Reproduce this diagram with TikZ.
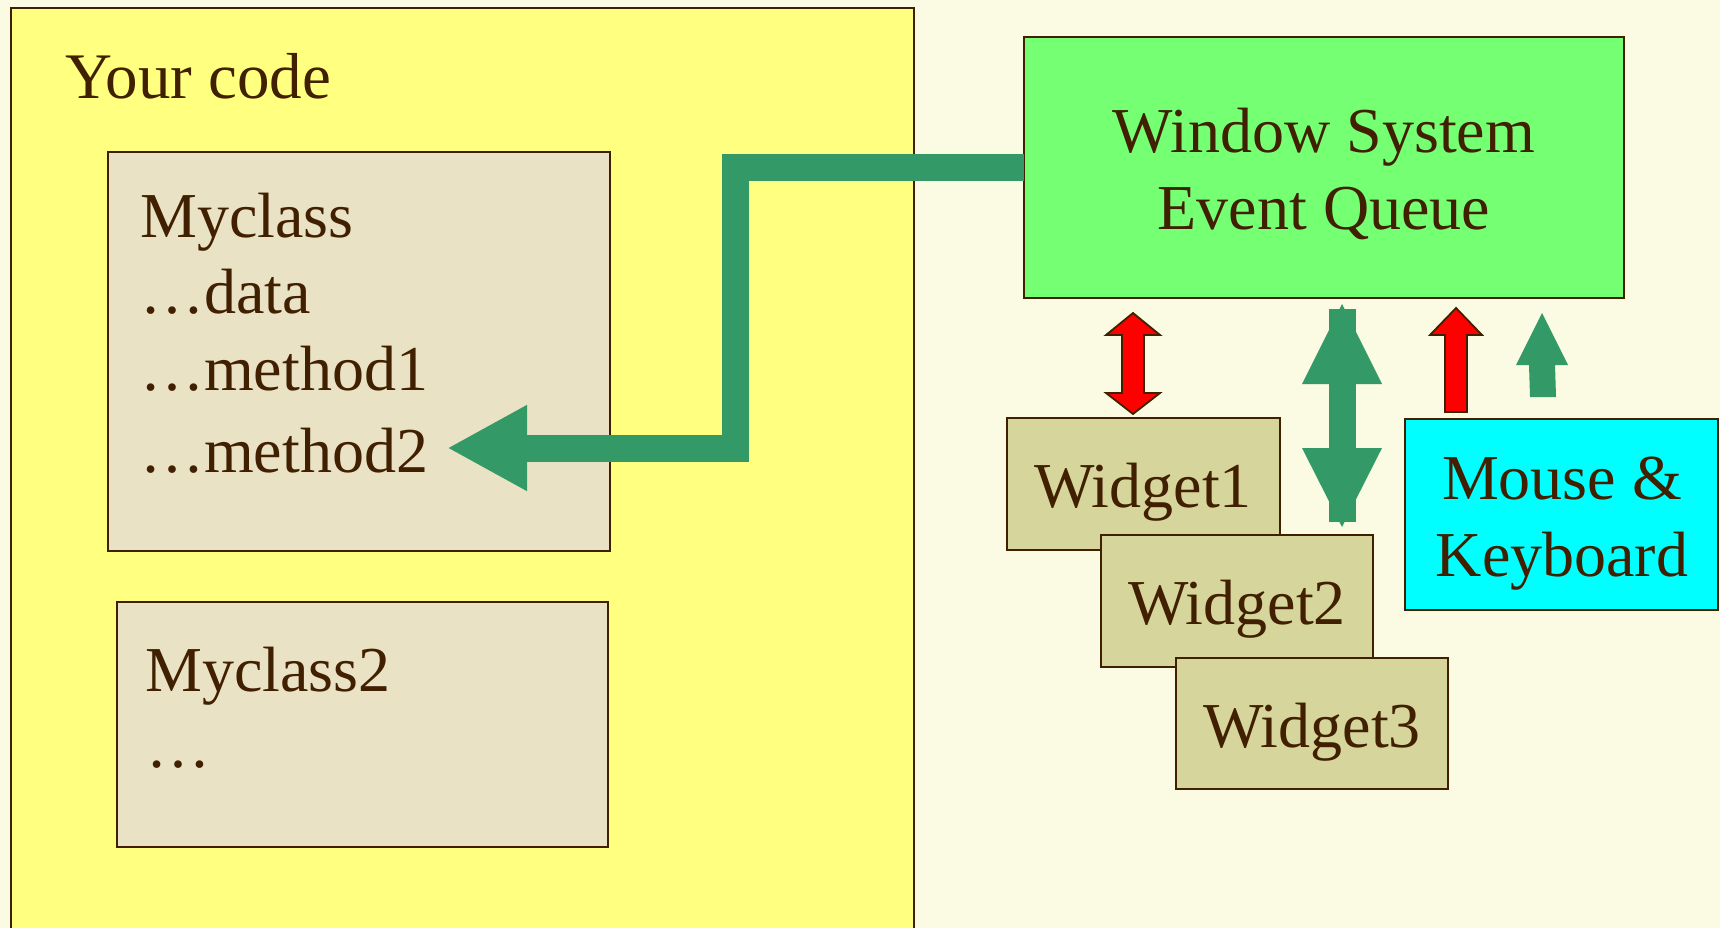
\documentclass[tikz,border=0pt]{standalone}
\usepackage{fontspec}
\setmainfont{Liberation Serif}
\usetikzlibrary{arrows.meta}
\definecolor{ink}{HTML}{402000}
\definecolor{paper}{HTML}{FBFAE3}
\definecolor{codeyellow}{HTML}{FFFF80}
\definecolor{classtan}{HTML}{EAE2C4}
\definecolor{queuegreen}{HTML}{75FF73}
\definecolor{widgetkhaki}{HTML}{D6D59C}
\definecolor{devicecyan}{HTML}{00FFFF}
\definecolor{flowgreen}{HTML}{339966}
\definecolor{flowred}{HTML}{FF0000}
\begin{document}
\begin{tikzpicture}[x=1pt,y=-1pt,
  box/.style={draw=ink, line width=2.4pt, inner sep=0pt, outer sep=0pt, anchor=north west},
  lbl/.style={text=ink, font=\fontsize{64}{77}\selectfont, inner sep=0pt},
  redarrow/.style={fill=flowred, draw=ink, line width=1.8pt, line join=miter},
  greenarrow/.style={fill=flowgreen},
]
\useasboundingbox (0,0) rectangle (1720,928);
\fill[paper] (0,0) rectangle (1720,928);

\begin{scope}
  \clip (0,0) rectangle (1720,928);
  % application side
  \node[box, fill=codeyellow, minimum width=903pt, minimum height=940pt] (code) at (11,8) {};
\end{scope}
\node[lbl, anchor=base west, font=\fontsize{65}{77}\selectfont] (codetitle) at (65,99) {Your code};

\node[box, fill=classtan, minimum width=502pt, minimum height=399pt] (myclass) at (108,152) {};
\node[lbl, anchor=base west] (mc0) at (140,237) {Myclass};
\node[lbl, anchor=base west] (mc1) at (140,313) {…data};
\node[lbl, anchor=base west] (mc2) at (140,390) {…method1};
\node[lbl, anchor=base west] (mc3) at (140,472) {…method2};

\node[box, fill=classtan, minimum width=491pt, minimum height=245pt] (myclass2) at (117,602) {};
\node[lbl, anchor=base west] (mcb0) at (145,691) {Myclass2};
\node[lbl, anchor=base west] (mcb1) at (146,767) {…};

% window system side
\node[box, fill=queuegreen, minimum width=600pt, minimum height=261pt] (win) at (1024,37) {};
\node[lbl, anchor=base] (win0) at (1324,153) {Window System};
\node[lbl, anchor=base] (win1) at (1324,229) {Event Queue};

\node[box, fill=widgetkhaki, minimum width=273pt, minimum height=132pt] (w1) at (1007,418) {};
\node[lbl, anchor=base] (w1t) at (1143,507) {Widget1};
\node[box, fill=widgetkhaki, minimum width=272pt, minimum height=132pt] (w2) at (1101,535) {};
\node[lbl, anchor=base] (w2t) at (1237,624) {Widget2};
\node[box, fill=widgetkhaki, minimum width=272pt, minimum height=131pt] (w3) at (1176,658) {};
\node[lbl, anchor=base] (w3t) at (1312,747) {Widget3};

\node[box, fill=devicecyan, minimum width=313pt, minimum height=191pt] (dev) at (1405,419) {};
\node[lbl, anchor=base] (dev0) at (1562,499) {Mouse \&};
\node[lbl, anchor=base] (dev1) at (1562,576) {Keyboard};

% dispatch from the queue into the handler
\coordinate (handler) at (447,448);
\draw[flowgreen, line width=27pt, line join=miter,
      -{Triangle[width=80pt, length=80pt]}]
  (win.west) -| (735.5,448) -- (handler);

% queue <-> widget1
\draw[redarrow] (1133,313) -- (1160,335) -- (1144,335) -- (1144,393) -- (1160,393)
  -- (1133,414) -- (1106,393) -- (1122,393) -- (1122,335) -- (1106,335) -- cycle;

% queue <-> widget2
\fill[greenarrow] (1329,309) rectangle (1356,522);
\fill[greenarrow] (1342,304) -- (1382,384) -- (1302,384) -- cycle;
\fill[greenarrow] (1342,527) -- (1382,448) -- (1302,448) -- cycle;

% devices -> queue
\draw[redarrow] (1456,308) -- (1482,335) -- (1467,335) -- (1467,412) -- (1445,412)
  -- (1445,335) -- (1430,335) -- cycle;
\fill[greenarrow] (1542,313) -- (1568,365) -- (1555,365) -- (1556,397) -- (1530,397)
  -- (1529,365) -- (1516,365) -- cycle;
\end{tikzpicture}
\end{document}
